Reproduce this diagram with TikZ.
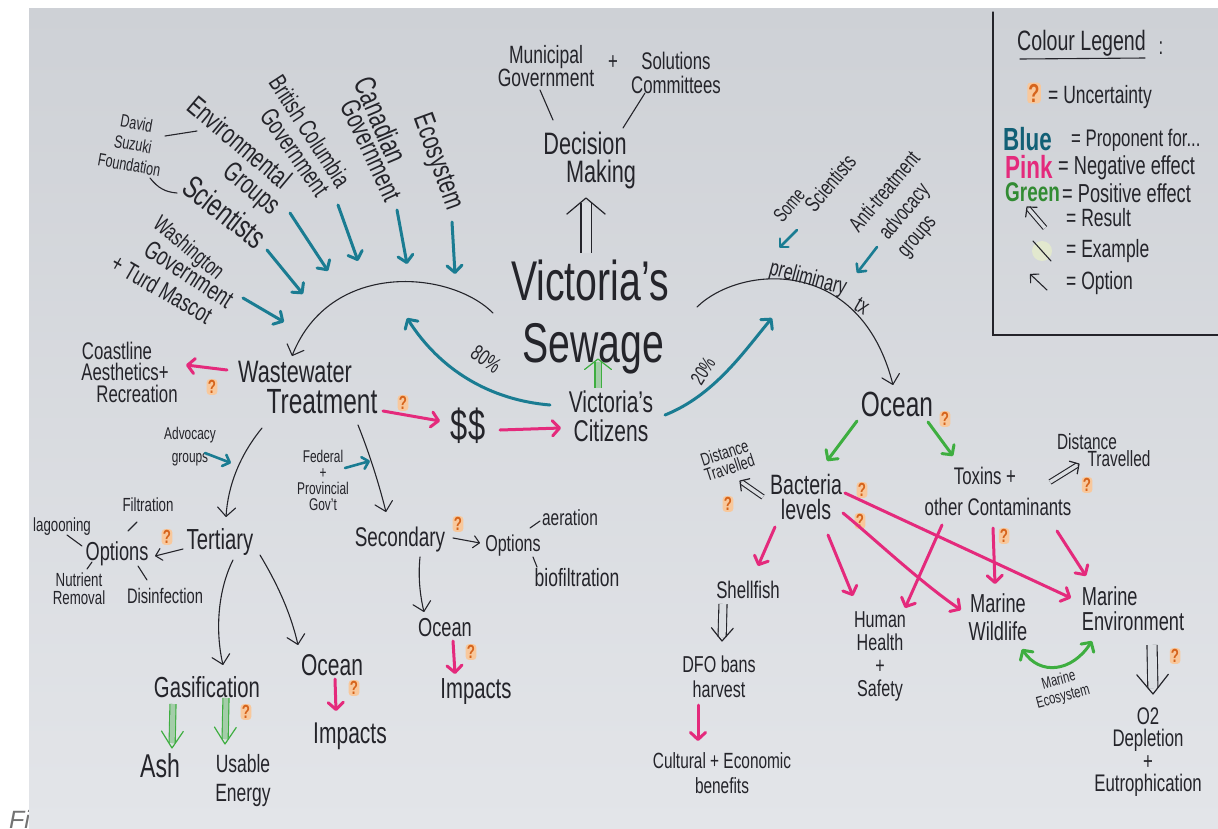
\documentclass[tikz,border=0pt]{standalone}
\usepackage{fontspec}
\setmainfont{Liberation Sans}[FakeStretch=0.7]
\newfontfamily\capfont{Liberation Sans}
\usetikzlibrary{arrows.meta,calc}
\definecolor{penc}{RGB}{36,36,42}
\definecolor{bluec}{RGB}{26,124,146}
\definecolor{bluet}{RGB}{18,96,118}
\definecolor{pinkc}{RGB}{228,42,124}
\definecolor{greenc}{RGB}{62,174,64}
\definecolor{qc}{RGB}{214,100,28}
\definecolor{qbg}{RGB}{248,200,156}
\definecolor{papt}{RGB}{206,209,214}
\definecolor{papb}{RGB}{227,229,233}
\definecolor{paperc}{RGB}{219,222,226}
\definecolor{exc}{RGB}{226,232,206}
\newcommand\fs[2]{\fontsize{#1}{#2}\selectfont}
% head of a double (result) arrow: colour, start, end, barb length, barb angle
\newcommand\dhead[5]{\draw[draw=#1, line width=1.2pt, line cap=round, line join=round] ($(#3)!#4pt!#5:(#2)$) -- (#3) -- ($(#3)!#4pt!-#5:(#2)$);}
\tikzset{
 tx/.style={inner sep=0pt, text=penc, align=center},
 pen/.style={draw=penc, line width=1.1pt, line cap=round},
 parr/.style={pen, -{Straight Barb[length=9pt,width=18pt,round]}},
 sarr/.style={pen, -{Straight Barb[length=6pt,width=12pt,round]}},
 colarr/.style={draw=#1, line width=3pt, line cap=round, -{Straight Barb[length=7pt,width=15pt,round]}},
 blu/.style={colarr=bluec},
 bluS/.style={draw=bluec, line width=2.6pt, line cap=round, -{Straight Barb[length=6pt,width=12pt,round]}},
 pnk/.style={colarr=pinkc},
 grn/.style={colarr=greenc},
 qm/.style={inner sep=1.2pt, fill=qbg, rounded corners=3pt, text=qc, font=\bfseries\fs{19}{19}},
 dsh/.style={draw=#1, line width=1.1pt, line cap=butt, double=paperc},
}
\begin{document}
\begin{tikzpicture}[x=1pt,y=-1pt]
\useasboundingbox (0,0) rectangle (1218,828);
\fill[white] (0,0) rectangle (1218,828);
\node[anchor=north west, inner sep=0pt, text=black!55, font=\capfont\itshape\fs{25}{25}] (fi) at (9,810) {Fi};
\shade[top color=papt, bottom color=papb] (29,8) rectangle (1218,828);

% ---------------- fan of proponents ----------------
\node[tx, rotate=-10, font=\fs{18}{21}] (dsf) at (133,144) {David\\Suzuki\\Foundation};
\node[tx, rotate=-40, font=\fs{28}{28}] (env) at (240,142) {Environmental};
\node[tx, rotate=-40, font=\fs{28}{28}] (grp) at (251,190) {Groups};
\node[tx, rotate=-38, font=\fs{32}{32}] (sci) at (225,212) {Scientists};
\node[tx, rotate=-57, font=\fs{25}{25}] (bc) at (310,131) {British Columbia};
\node[tx, rotate=-55, font=\fs{26}{26}] (bcg) at (295,152) {Government};
\node[tx, rotate=-67, font=\fs{30}{30}] (can) at (381,120) {Canadian};
\node[tx, rotate=-65, font=\fs{28}{28}] (cang) at (371,150) {Government};
\node[tx, rotate=-70, font=\fs{29}{29}] (eco) at (437,162) {Ecosystem};
\node[tx, rotate=-40, font=\fs{23}{23}] (wash) at (188,249) {Washington};
\node[tx, rotate=-33, font=\fs{26}{26}] (washg) at (189,274) {Government};
\node[tx, rotate=-30, font=\fs{25}{25}] (turd) at (162,289) {+ Turd Mascot};

\coordinate (d1) at (165,136); \coordinate (d2) at (197,131);
\coordinate (d3) at (150,178); \coordinate (d4) at (177,193);
\draw[pen] (d1) -- (d2);
\draw[pen] (d3) .. controls (158,188) and (165,192) .. (d4);

\coordinate (e1) at (452,222); \coordinate (e2) at (455,274);
\coordinate (c1) at (397,210); \coordinate (c2) at (407,264);
\coordinate (b1) at (338,205); \coordinate (b2) at (358,261);
\coordinate (g1) at (290,213); \coordinate (g2) at (328,271);
\coordinate (s1) at (267,250); \coordinate (s2) at (303,294);
\coordinate (w1) at (243,298); \coordinate (w2) at (284,322);
\draw[blu] (e1) -- (e2);
\draw[blu] (c1) -- (c2);
\draw[blu] (b1) -- (b2);
\draw[blu] (g1) -- (g2);
\draw[blu] (s1) -- (s2);
\draw[blu] (w1) -- (w2);

% ---------------- centre ----------------
\node[tx, font=\fs{25}{23}] (mun) at (546,66) {Municipal\\Government};
\node[tx, font=\fs{24}{24}] (plus) at (613,63) {+};
\node[tx, font=\fs{24}{24}] (sol) at (676,73) {Solutions\\Committees};
\node[tx, font=\fs{31}{31}] (dec) at (585,143) {Decision};
\node[tx, font=\fs{31}{31}] (mak) at (601,174) {Making};
\coordinate (m1) at (540,90); \coordinate (m2) at (553,120);
\coordinate (m3) at (645,93); \coordinate (m4) at (623,128);
\draw[pen] (m1) -- (m2);
\draw[pen] (m3) -- (m4);

\node[tx, anchor=base, font=\fs{56}{56}] (vic) at (590,300) {Victoria's};
\node[tx, anchor=base, font=\fs{56}{56}] (sew) at (593,362) {Sewage};
\coordinate (vs1) at (586,253); \coordinate (vs2) at (586,198);
\draw[dsh=penc, double distance=9pt, shorten >=5pt] (vs1) -- (vs2);
\dhead{penc}{vs1}{vs2}{25}{50}

\node[tx, font=\fs{30}{29}] (vcit) at (611,416) {Victoria's\\Citizens};
\coordinate (vc1) at (598,388); \coordinate (vc2) at (598,359);
\draw[dsh=greenc, double=greenc!35!paperc, double distance=5pt, shorten >=3pt] (vc1) -- (vc2);
\dhead{greenc}{vc1}{vc2}{17}{52}

\node[tx, font=\fs{44}{44}] (dol) at (468,426) {\$\$};
\node[tx, font=\fs{31}{31}] (ww) at (295,372) {Wastewater};
\node[tx, font=\fs{35}{35}] (tr) at (322,402) {Treatment};

\node[tx, font=\fs{24}{24}] (coast1) at (117,351) {Coastline};
\node[tx, font=\fs{24}{24}] (coast) at (125,372) {Aesthetics+};
\node[tx, font=\fs{24}{24}] (coast3) at (137,394) {Recreation};
\coordinate (ca1) at (227,370); \coordinate (ca2) at (186,365);
\draw[pnk] (ca1) -- (ca2);
\node[qm] (q1) at (212,387) {?};
\node[qm] (q2) at (403,403) {?};
\coordinate (td1) at (383,411); \coordinate (td2) at (440,421);
\draw[pnk] (td1) -- (td2);
\coordinate (dc1) at (500,430); \coordinate (dc2) at (561,428);
\draw[pnk] (dc1) -- (dc2);

\node[tx, rotate=-35, font=\fs{22}{22}] (p80) at (486,359) {80\%};
\coordinate (a80s) at (550,405); \coordinate (a80e) at (407,318);
\draw[blu] (a80s) .. controls (490,400) and (440,370) .. (a80e);
\node[tx, rotate=58, font=\fs{20}{20}] (p20) at (703,371) {20\%};
\coordinate (a20s) at (665,415); \coordinate (a20e) at (772,318);
\draw[blu] (a20s) .. controls (715,395) and (745,350) .. (a20e);

\coordinate (arcL) at (493,313); \coordinate (arcLe) at (292,356);
\draw[parr] (arcL) .. controls (450,270) and (330,260) .. (arcLe);
\coordinate (arcR) at (697,307); \coordinate (arcRe) at (893,385);
\draw[parr] (arcR) .. controls (740,265) and (860,255) .. (arcRe);

\node[tx, rotate=-15, font=\fs{23}{23}] (prel) at (808,279) {preliminary};
\node[tx, rotate=-30, font=\fs{23}{23}] (ptx) at (862,306) {tx};
\node[tx, rotate=50, font=\fs{20}{20}] (some) at (789,205) {Some};
\node[tx, rotate=50, font=\fs{22}{22}] (ssci) at (830,183) {Scientists};
\node[tx, rotate=50, font=\fs{22}{22}] (anti1) at (884,191) {Anti-treatment};
\node[tx, rotate=50, font=\fs{22}{22}] (anti2) at (905,212) {advocacy};
\node[tx, rotate=50, font=\fs{22}{22}] (anti3) at (919,238) {groups};
\coordinate (ss1) at (797,230); \coordinate (ss2) at (779,248);
\draw[bluS] (ss1) -- (ss2);
\coordinate (an1) at (877,247); \coordinate (an2) at (857,273);
\draw[bluS] (an1) -- (an2);

% ---------------- ocean side ----------------
\node[tx, font=\fs{35}{35}] (oc) at (897,404) {Ocean};
\node[qm] (q8) at (945,419) {?};
\coordinate (ob1) at (857,421); \coordinate (ob2) at (827,461);
\coordinate (ot1) at (928,422); \coordinate (ot2) at (953,456);
\draw[grn] (ob1) -- (ob2);
\draw[grn] (ot1) -- (ot2);

\node[tx, font=\fs{28}{25}] (bact) at (806,497) {Bacteria\\levels};
\node[tx, rotate=18, font=\fs{18}{16}] (dist1) at (727,460) {Distance\\Travelled};
\node[qm] (q9) at (728,504) {?};
\coordinate (bd1) at (763,497); \coordinate (bd2) at (740,481);
\draw[dsh=penc, double distance=3.5pt, shorten >=2pt] (bd1) -- (bd2);
\dhead{penc}{bd1}{bd2}{10}{48}
\node[qm] (q10) at (862,490) {?};
\node[qm] (q11) at (860,521) {?};

\node[tx, font=\fs{24}{31}] (tox) at (998,491) {Toxins +\hspace*{26pt}\\other Contaminants};
\node[tx, font=\fs{22}{22}] (dist2a) at (1087,442) {Distance};
\node[tx, font=\fs{22}{22}] (dist2b) at (1119,459) {Travelled};
\coordinate (td3) at (1050,482); \coordinate (td4) at (1079,464);
\draw[dsh=penc, double distance=3.5pt, shorten >=2pt] (td3) -- (td4);
\dhead{penc}{td3}{td4}{10}{48}
\node[qm] (q13) at (1087,485) {?};

\node[tx, font=\fs{24}{24}] (shell) at (748,590) {Shellfish};
\node[tx, font=\fs{23}{25}] (dfo) at (719,677) {DFO bans\\harvest};
\node[tx, font=\fs{22}{25}] (cult) at (722,773) {Cultural + Economic\\benefits};
\node[tx, font=\fs{23}{23}] (hum) at (880,656) {Human\\Health\\+\\Safety};
\node[tx, font=\fs{26}{28}] (mw) at (998,617) {Marine\\Wildlife};
\node[tx, align=left, font=\fs{26}{25}] (me) at (1133,609) {Marine\\Environment};
\node[tx, rotate=15, font=\fs{16}{17}] (meco) at (1061,689) {Marine\\Ecosystem};
\node[tx, font=\fs{24}{22.5}] (o2) at (1148,752) {O2\\Depletion\\+\\Eutrophication};

\coordinate (p1a) at (775,527); \coordinate (p1b) at (758,566);
\coordinate (p2a) at (828,535); \coordinate (p2b) at (853,596);
\coordinate (p3a) at (843,513); \coordinate (p3b) at (961,610);
\coordinate (p4a) at (845,493); \coordinate (p4b) at (1071,598);
\coordinate (p5a) at (942,525); \coordinate (p5b) at (905,608);
\coordinate (p6a) at (993,528); \coordinate (p6b) at (995,584);
\coordinate (p7a) at (1057,531); \coordinate (p7b) at (1086,576);
\draw[pnk] (p1a) -- (p1b);
\draw[pnk] (p2a) -- (p2b);
\draw[pnk] (p3a) .. controls (870,535) and (920,582) .. (p3b);
\draw[pnk] (p4a) -- (p4b);
\draw[pnk] (p5a) -- (p5b);
\draw[pnk] (p6a) -- (p6b);
\draw[pnk] (p7a) -- (p7b);
\node[qm] (q12) at (1004,536) {?};

\coordinate (sd1) at (723,604); \coordinate (sd2) at (722,641);
\draw[dsh=penc, double distance=7pt, shorten >=4pt] (sd1) -- (sd2);
\dhead{penc}{sd1}{sd2}{17}{40}
\coordinate (dc3) at (698,705); \coordinate (dc4) at (698,741);
\draw[pnk] (dc3) -- (dc4);

\coordinate (mwe) at (1022,649); \coordinate (mee) at (1092,641);
\draw[grn, {Straight Barb[length=7pt,width=15pt,round]}-{Straight Barb[length=7pt,width=15pt,round]}] (mwe) .. controls (1040,676) and (1072,672) .. (mee);

\coordinate (mo1) at (1152,645); \coordinate (mo2) at (1153,694);
\draw[dsh=penc, double distance=9pt, shorten >=6pt] (mo1) -- (mo2);
\dhead{penc}{mo1}{mo2}{25}{39}
\node[qm] (q14) at (1175,656) {?};

% ---------------- treatment options ----------------
\node[tx, font=\fs{17}{23}] (adv) at (190,447) {Advocacy\\groups};
\coordinate (ad1) at (205,453); \coordinate (ad2) at (231,463);
\draw[bluS] (ad1) -- (ad2);
\node[tx, font=\fs{17}{16}] (fed) at (323,480) {Federal\\+\\Provincial\\Gov't};
\coordinate (fd1) at (345,468); \coordinate (fd2) at (370,461);
\draw[bluS] (fd1) -- (fd2);
\coordinate (tt1) at (262,428); \coordinate (tt2) at (226,517);
\draw[parr] (tt1) .. controls (240,455) and (228,485) .. (tt2);
\coordinate (ts1) at (358,425); \coordinate (ts2) at (386,512);
\draw[parr] (ts1) .. controls (368,450) and (378,480) .. (ts2);

\node[tx, font=\fs{29}{29}] (ter) at (220,542) {Tertiary};
\node[qm] (q3) at (167,537) {?};
\coordinate (to1) at (183,549); \coordinate (to2) at (155,556);
\draw[sarr] (to1) -- (to2);
\node[tx, font=\fs{26}{26}] (opt) at (117,554) {Options};
\node[tx, font=\fs{19}{19}] (filt) at (148,505) {Filtration};
\node[tx, font=\fs{19}{19}] (lag) at (62,527) {lagooning};
\node[tx, font=\fs{19}{18}] (nut) at (79,589) {Nutrient\\Removal};
\node[tx, font=\fs{21}{21}] (dis) at (165,596) {Disinfection};
\coordinate (l1a) at (137,522); \coordinate (l1b) at (128,531);
\coordinate (l2a) at (67,535); \coordinate (l2b) at (82,546);
\coordinate (l3a) at (92,562); \coordinate (l3b) at (87,569);
\coordinate (l4a) at (138,566); \coordinate (l4b) at (147,580);
\draw[pen] (l1a) -- (l1b);
\draw[pen] (l2a) -- (l2b);
\draw[pen] (l3a) -- (l3b);
\draw[pen] (l4a) -- (l4b);

\coordinate (tg1) at (233,560); \coordinate (tg2) at (223,665);
\draw[parr] (tg1) .. controls (218,590) and (215,630) .. (tg2);
\coordinate (tc1) at (260,555); \coordinate (tc2) at (298,645);
\draw[parr] (tc1) .. controls (275,580) and (290,610) .. (tc2);
\node[tx, font=\fs{29}{29}] (gas) at (207,687) {Gasification};
\coordinate (ga1) at (173,704); \coordinate (ga2) at (172,748);
\draw[dsh=greenc, double=greenc!35!paperc, double distance=5pt, shorten >=5pt] (ga1) -- (ga2);
\dhead{greenc}{ga1}{ga2}{20}{33}
\coordinate (gu1) at (226,698); \coordinate (gu2) at (225,744);
\draw[dsh=greenc, double=greenc!35!paperc, double distance=5pt, shorten >=5pt] (gu1) -- (gu2);
\dhead{greenc}{gu1}{gu2}{20}{33}
\node[qm] (q4) at (246,712) {?};
\node[tx, font=\fs{33}{33}] (ash) at (160,766) {Ash};
\node[tx, font=\fs{25}{29}] (use) at (243,781) {Usable\\Energy};
\node[tx, font=\fs{30}{30}] (ocL) at (332,665) {Ocean};
\coordinate (oi1) at (335,679); \coordinate (oi2) at (336,711);
\draw[pnk] (oi1) -- (oi2);
\node[qm] (q5) at (354,688) {?};
\node[tx, font=\fs{30}{30}] (impL) at (350,736) {Impacts};

\node[tx, font=\fs{27}{27}] (sec) at (400,540) {Secondary};
\node[qm] (q6) at (458,524) {?};
\coordinate (so1) at (453,538); \coordinate (so2) at (480,543);
\draw[sarr] (so1) -- (so2);
\node[tx, font=\fs{23}{23}] (opt2) at (513,546) {Options};
\node[tx, font=\fs{22}{22}] (aer) at (570,518) {aeration};
\node[tx, font=\fs{25}{25}] (bio) at (577,578) {biofiltration};
\coordinate (ae1) at (530,528); \coordinate (ae2) at (540,521);
\coordinate (bi1) at (533,557); \coordinate (bi2) at (537,567);
\draw[pen] (ae1) -- (ae2);
\draw[pen] (bi1) -- (bi2);
\coordinate (sc1) at (420,557); \coordinate (sc2) at (424,612);
\draw[parr] (sc1) .. controls (418,577) and (420,595) .. (sc2);
\node[tx, font=\fs{26}{26}] (oc2) at (445,628) {Ocean};
\coordinate (oj1) at (453,641); \coordinate (oj2) at (455,674);
\draw[pnk] (oj1) -- (oj2);
\node[qm] (q7) at (471,652) {?};
\node[tx, font=\fs{29}{29}] (imp2) at (476,692) {Impacts};

% ---------------- legend ----------------
\coordinate (lbx1) at (993,12); \coordinate (lbx2) at (993,335); \coordinate (lbx3) at (1218,335);
\draw[pen, line width=1.3pt] (lbx1) -- (lbx2) -- (lbx3);
\node[tx, anchor=west, font=\fs{28}{28}] (lgt) at (1017,43) {Colour Legend};
\node[tx, font=\fs{24}{24}] (lgc) at (1161,48) {:};
\coordinate (u1) at (1020,59); \coordinate (u2) at (1145,58);
\draw[pen] (u1) -- (u2);
\node[qm, font=\bfseries\fs{26}{26}] (lq) at (1034,93) {?};
\node[tx, anchor=west, font=\fs{25}{25}] (lt1) at (1048,97) {= Uncertainty};
\node[tx, anchor=west, text=bluet, font=\bfseries\fs{32}{32}] (lb) at (1003,139) {Blue};
\node[tx, anchor=west, font=\fs{24}{24}] (lt2) at (1071,140) {= Proponent for...};
\node[tx, anchor=west, text=pinkc, font=\bfseries\fs{32}{32}] (lp) at (1005,167) {Pink};
\node[tx, anchor=west, font=\fs{26}{26}] (lt3) at (1058,168) {= Negative effect};
\node[tx, anchor=west, text=greenc!80!black, font=\bfseries\fs{27}{27}] (lg) at (1005,192) {Green};
\node[tx, anchor=west, font=\fs{26}{26}] (lt4) at (1062,193) {= Positive effect};
\coordinate (r1) at (1045,228); \coordinate (r2) at (1027,207);
\draw[dsh=penc, double distance=3.5pt, shorten >=2pt] (r1) -- (r2);
\dhead{penc}{r1}{r2}{10}{48}
\node[tx, anchor=west, font=\fs{25}{25}] (lt5) at (1066,218) {= Result};
\fill[exc] (1042,251) circle (10);
\coordinate (x1) at (1033,241); \coordinate (x2) at (1051,261);
\draw[pen] (x1) -- (x2);
\node[tx, anchor=west, font=\fs{25}{25}] (lt6) at (1066,251) {= Example};
\coordinate (o1) at (1047,290); \coordinate (o2) at (1030,274);
\draw[sarr] (o1) -- (o2);
\node[tx, anchor=west, font=\fs{25}{25}] (lt7) at (1066,283) {= Option};
\end{tikzpicture}
\end{document}
